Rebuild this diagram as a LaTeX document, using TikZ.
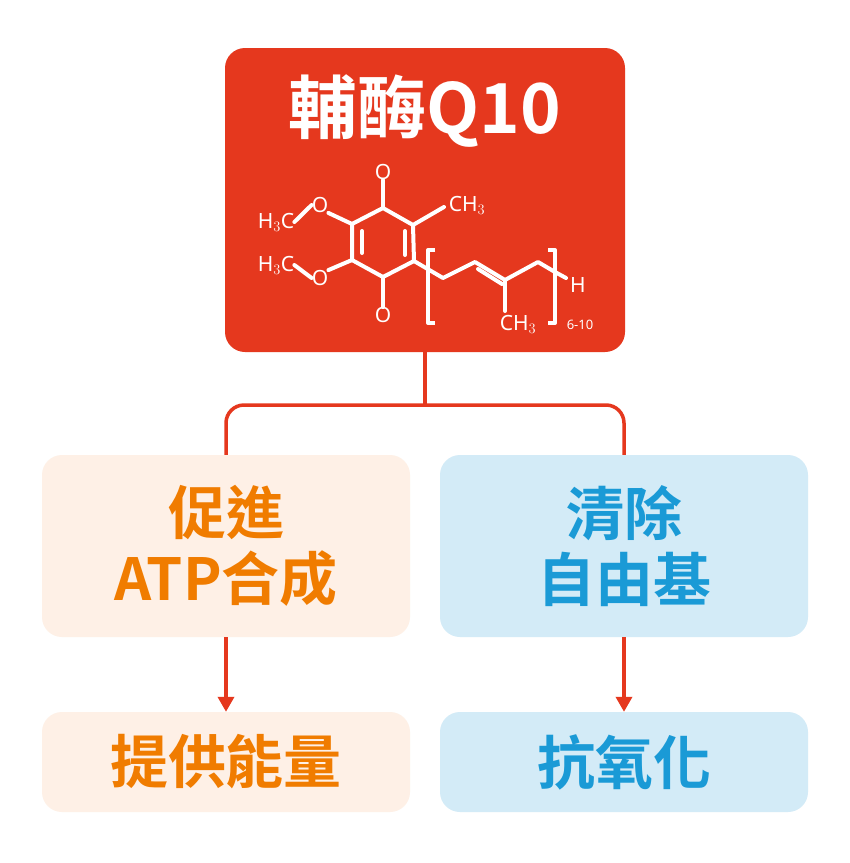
\documentclass[tikz,border=0pt]{standalone}
\usepackage{fontspec}
\setmainfont{Noto Sans}
\newfontfamily\cjk{Noto Sans CJK TC Bold}
\usetikzlibrary{arrows.meta}
\definecolor{qred}{HTML}{E5381E}
\definecolor{qorange}{HTML}{F07C00}
\definecolor{qblue}{HTML}{1A9AD6}
\definecolor{qpeach}{HTML}{FEF0E6}
\definecolor{qsky}{HTML}{D3EBF7}
\begin{document}
\begin{tikzpicture}[x=1pt,y=-1pt,
  box/.style={rounded corners=20pt,draw=none},
  bond/.style={white,line width=4pt,line cap=round,line join=round},
  atom/.style={white,font=\fontsize{21}{21}\selectfont,inner sep=0pt},
  con/.style={qred,line width=3.5pt}]
\useasboundingbox (0,0) rectangle (850,863);
\fill[white] (0,0) rectangle (850,863);
\node[box,fill=qred,minimum width=400pt,minimum height=304pt] (top) at (425,200) {};
\node[box,fill=qpeach,minimum width=368pt,minimum height=182pt] (l1) at (226,546) {};
\node[box,fill=qsky,minimum width=368pt,minimum height=182pt] (r1) at (624,546) {};
\node[box,fill=qpeach,minimum width=368pt,minimum height=100pt] (l2) at (226,762) {};
\node[box,fill=qsky,minimum width=368pt,minimum height=100pt] (r2) at (624,762) {};
\node[white,font=\cjk\fontsize{69}{69}\selectfont] (title) at (425,111) {輔酶Q10};
\node[qorange,font=\cjk\fontsize{58}{66}\selectfont,align=center] at (l1) {促進\\ATP合成};
\node[qblue,font=\cjk\fontsize{58}{66}\selectfont,align=center] at (r1) {清除\\自由基};
\node[qorange,font=\cjk\fontsize{58}{58}\selectfont] at (l2) {提供能量};
\node[qblue,font=\cjk\fontsize{58}{58}\selectfont] at (r2) {抗氧化};
% connectors
\coordinate (j) at (425,405);
\draw[con,rounded corners=18pt] (l1.north) |- (j) -| (r1.north);
\draw[con] (top.south) -- (j);
\draw[con,-{Triangle[length=15pt,width=16pt]}] (l1.south) -- (l2.north);
\draw[con,-{Triangle[length=15pt,width=16pt]}] (r1.south) -- (r2.north);
% molecule
\node[atom] (o1) at (383,172) {O};
\node[atom] (o2) at (383,315) {O};
\node[atom] (o3) at (320,205) {O};
\node[atom] (o4) at (320,278) {O};
\node[atom] (m1) at (276,222) {H$_3$C};
\node[atom] (m2) at (276,265) {H$_3$C};
\node[atom] (m3) at (467,205) {CH$_3$};
\node[atom] (m4) at (518,324) {CH$_3$};
\node[atom] (h) at (578,285) {H};
\node[white,font=\fontsize{13}{13}\selectfont\bfseries,inner sep=0pt] (n) at (580,325) {6-10};
\draw[bond] (383,208) -- (413,225) -- (414,261) -- (383,277) -- (352,260) -- (352,224) -- cycle;
\draw[bond] (362,231) -- (362,253);
\draw[bond] (405,231) -- (405,255);
\draw[bond] (383,208) -- (o1.south);
\draw[bond] (383,277) -- (o2.north);
\draw[bond] (352,224) -- (o3.south east);
\draw[bond] (o3.west) -- (m1.east);
\draw[bond] (352,260) -- (o4.north east);
\draw[bond] (o4.west) -- (m2.east);
\draw[bond] (413,225) -- (444,207);
\draw[bond] (414,261) -- (443,278) -- (475,262) -- (505,280) -- (538,262) -- (555,272) -- (566,278);
\draw[bond] (478,269) -- (502,284);
\draw[bond] (505,280) -- (505,311);
\draw[bond,line cap=butt] (435,250) -- (428,250) -- (428,323) -- (435,323);
\draw[bond,line cap=butt] (548,250) -- (555,250) -- (555,323) -- (548,323);
\end{tikzpicture}
\end{document}
